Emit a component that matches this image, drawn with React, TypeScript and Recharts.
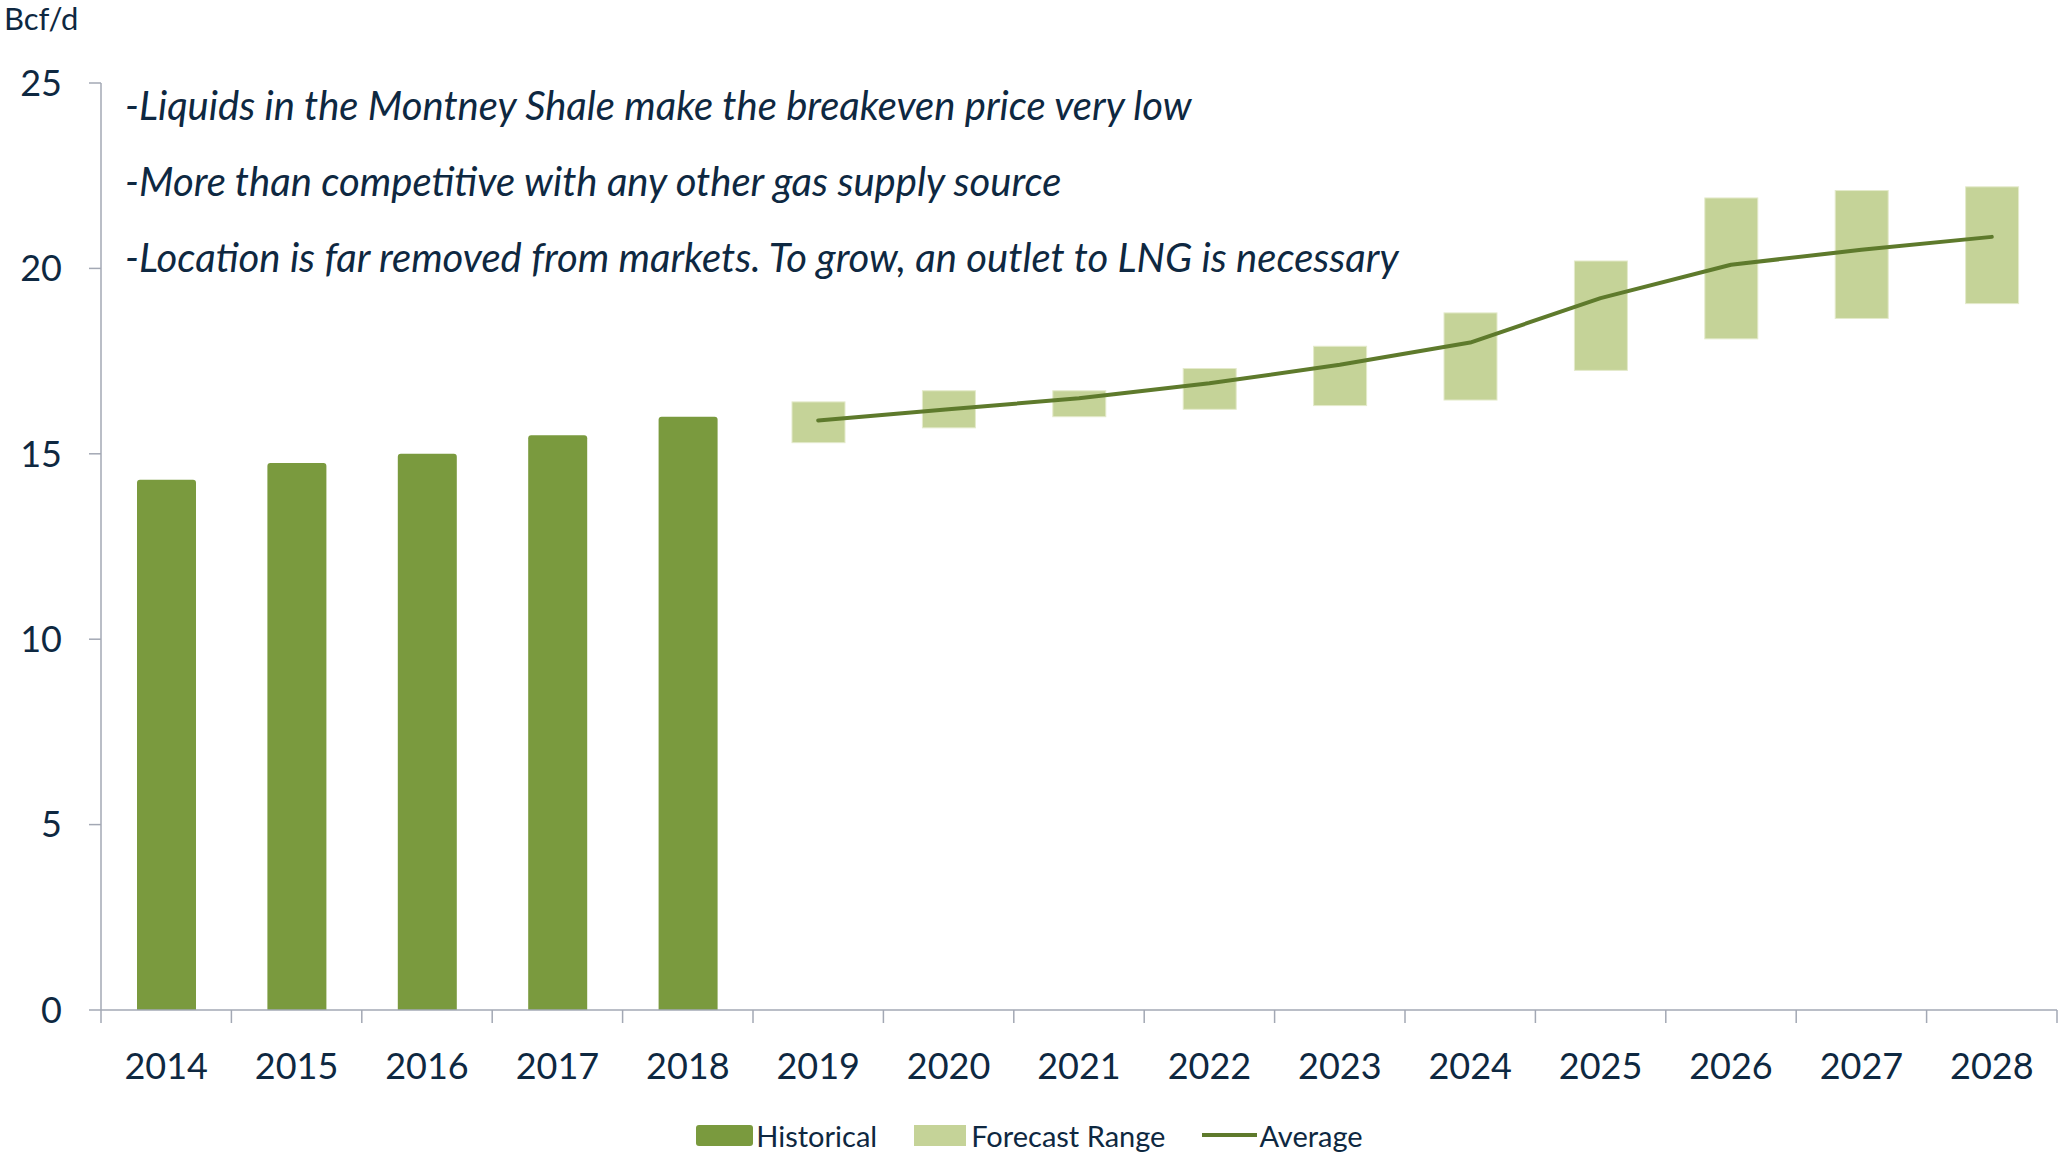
import React from 'react';
import { ComposedChart, Bar, Line, XAxis, YAxis, Legend } from 'recharts';

const years = ['2014', '2015', '2016', '2017', '2018', '2019', '2020', '2021', '2022', '2023', '2024', '2025', '2026', '2027', '2028'];
const historical = [14.3, 14.75, 15.0, 15.5, 16.0, null, null, null, null, null, null, null, null, null, null];
const forecastLow = [null, null, null, null, null, 15.3, 15.7, 16.0, 16.2, 16.3, 16.45, 17.25, 18.1, 18.65, 19.05];
const forecastHigh = [null, null, null, null, null, 16.4, 16.7, 16.7, 17.3, 17.9, 18.8, 20.2, 21.9, 22.1, 22.2];
const average = [null, null, null, null, null, 15.9, 16.2, 16.5, 16.9, 17.4, 18.0, 19.2, 20.1, 20.5, 20.85];
const yTicks = [0, 5, 10, 15, 20, 25];
const notes = [
  '-Liquids in the Montney Shale make the breakeven price very low',
  '-More than competitive with any other gas supply source',
  '-Location is far removed from markets. To grow, an outlet to LNG is necessary',
];

const data = years.map((year, i) => ({
  year,
  historical: historical[i],
  base: forecastLow[i],
  range: forecastLow[i] != null && forecastHigh[i] != null ? +(forecastHigh[i]! - forecastLow[i]!).toFixed(2) : null,
  average: average[i],
}));

const TEXT = '#0E2841';
const AXIS = '#A3A8B4';
const DARK_GREEN = '#7A9A3E';
const LIGHT_GREEN = '#C5D398';
const LINE_GREEN = '#5E7A2C';
const FONT = 'Lato, "Open Sans", sans-serif';

const XTick = (props: any) => {
  const { x, y, payload, index } = props;
  const half = payload && payload.offset ? payload.offset : 65.2;
  return (
    <g>
      <line x1={x - half} y1={y} x2={x - half} y2={y + 13} stroke={AXIS} strokeWidth={1.5} />
      {index === years.length - 1 && (
        <line x1={x + half} y1={y} x2={x + half} y2={y + 13} stroke={AXIS} strokeWidth={1.5} />
      )}
      <text x={x} y={y + 55} textAnchor="middle" dominantBaseline="central" fill={TEXT} fontSize={36} fontFamily={FONT}>
        {payload.value}
      </text>
    </g>
  );
};

const RangeShape = (props: any) => {
  const { x, y, width, height } = props;
  if (!height) return null;
  const w = 53;
  return <rect x={x + (width - w) / 2} y={y} width={w} height={height} fill={LIGHT_GREEN} stroke="#E4EACB" strokeWidth={1} />;
};

const renderLegend = () => (
  <div style={{ height: 62, boxSizing: 'border-box', paddingTop: 28, display: 'flex', justifyContent: 'center', alignItems: 'center', fontFamily: FONT, fontSize: 29, color: TEXT }}>
    <div style={{ display: 'flex', alignItems: 'center', marginRight: 37 }}>
      <span style={{ width: 57, height: 21, background: DARK_GREEN, borderRadius: 3, marginRight: 3, display: 'inline-block' }} />
      <span>Historical</span>
    </div>
    <div style={{ display: 'flex', alignItems: 'center', marginRight: 37 }}>
      <span style={{ width: 52, height: 21, background: LIGHT_GREEN, marginRight: 5, display: 'inline-block' }} />
      <span>Forecast Range</span>
    </div>
    <div style={{ display: 'flex', alignItems: 'center' }}>
      <span style={{ width: 55, height: 4, background: LINE_GREEN, marginRight: 2, display: 'inline-block' }} />
      <span>Average</span>
    </div>
  </div>
);

const App: React.FC = () => {
  return (
    <div style={{ position: 'absolute', left: 0, top: 0, width: 2059, height: 1152, background: '#fff' }}>
      <ComposedChart width={2059} height={1152} data={data} margin={{ top: 83, right: 2, left: 0, bottom: 0 }}>
        <XAxis dataKey="year" height={80} tick={<XTick />} tickLine={false} tickSize={0} tickMargin={0} axisLine={{ stroke: AXIS, strokeWidth: 1.5 }} interval={0} />
        <YAxis
          width={101}
          domain={[0, 25]}
          ticks={yTicks}
          tickSize={12}
          tickMargin={27}
          tickLine={{ stroke: AXIS, strokeWidth: 1.5 }}
          axisLine={{ stroke: AXIS, strokeWidth: 1.5 }}
          tick={{ fill: TEXT, fontSize: 36, fontFamily: FONT }}
        />
        <Legend verticalAlign="bottom" height={62} content={renderLegend} wrapperStyle={{ left: 0, width: 2059 }} />
        <Bar dataKey="historical" name="Historical" stackId="s" fill={DARK_GREEN} barSize={59} radius={[3, 3, 0, 0]} isAnimationActive={false} />
        <Bar dataKey="base" stackId="s" fill="transparent" isAnimationActive={false} legendType="none" />
        <Bar dataKey="range" name="Forecast Range" stackId="s" fill={LIGHT_GREEN} shape={<RangeShape />} isAnimationActive={false} />
        <Line dataKey="average" name="Average" type="linear" stroke={LINE_GREEN} strokeWidth={4} strokeLinecap="round" strokeLinejoin="round" dot={false} activeDot={false} connectNulls={false} isAnimationActive={false} />
      </ComposedChart>
      <div style={{ position: 'absolute', left: 4, top: 0, fontFamily: FONT, fontSize: 31, color: TEXT, lineHeight: '36px' }}>Bcf/d</div>
      {notes.map((n, i) => (
        <div
          key={i}
          style={{ position: 'absolute', left: 125, top: 105 + i * 76 - 25, fontFamily: FONT, fontStyle: 'italic', fontSize: 40, color: TEXT, lineHeight: '50px', whiteSpace: 'nowrap' }}
        >
          {n}
        </div>
      ))}
    </div>
  );
};

export default App;
